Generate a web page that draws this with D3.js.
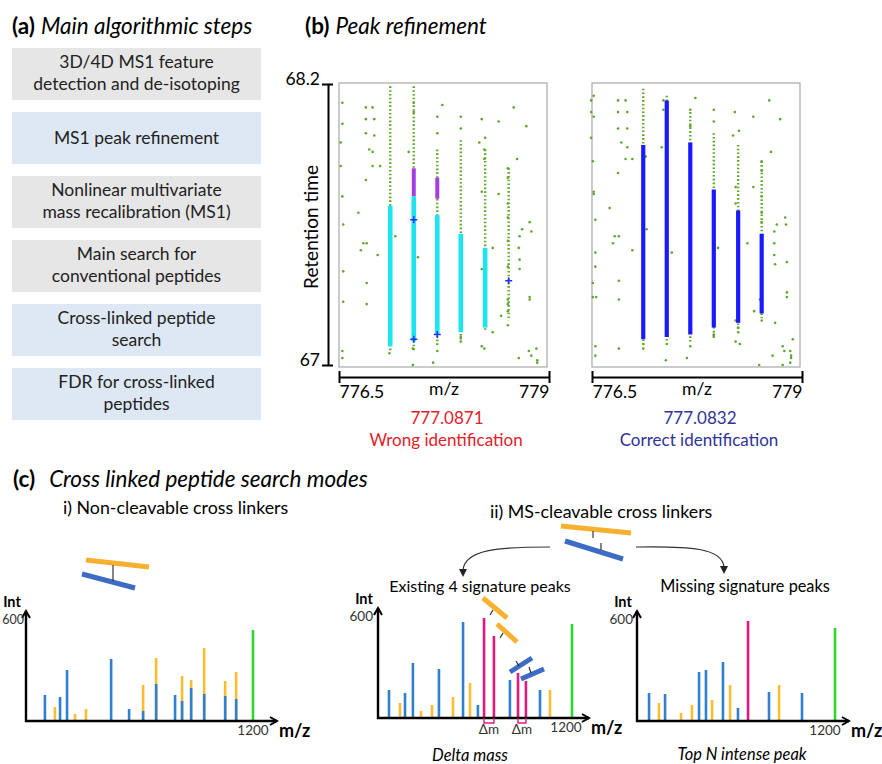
<!DOCTYPE html>
<html>
<head>
<meta charset="utf-8">
<script src="https://cdn.jsdelivr.net/npm/d3@7"></script>
<style>
  body { margin: 0; background: #fff; }
  svg text { font-family: Lato, "Open Sans", sans-serif; }
</style>
</head>
<body>
<script>
// ---- (a) steps ----
var steps = [
  ["3D/4D MS1 feature", "detection and de-isotoping"],
  ["MS1 peak refinement"],
  ["Nonlinear multivariate", "mass recalibration (MS1)"],
  ["Main search for", "conventional peptides"],
  ["Cross-linked peptide", "search"],
  ["FDR for cross-linked", "peptides"]
];
var stepKind = ["gen", "xl", "gen", "gen", "xl", "xl"];

// ---- (b) peak refinement ----
var peakMz = [777.11, 777.39, 777.67, 777.95, 778.24, 778.52];
var rtTicks = [67, 68.2];
var mzTicks = [776.5, 779];

// [peak index, rt top, rt bottom]
var wrongTrails = [[0, 68.19, 67.06], [1, 68.19, 67.06], [2, 67.92, 67.08], [3, 67.96, 67.10], [4, 67.92, 67.15], [5, 67.84, 67.19]];
var wrongCyan = [[0, 67.68, 67.08], [1, 67.72, 67.10], [2, 67.64, 67.13], [3, 67.56, 67.14], [4, 67.50, 67.16]];
var wrongPurple = [[1, 67.84, 67.72], [2, 67.80, 67.71]];
var wrongCross = [[1, 67.62], [1, 67.11], [2, 67.13], [5, 67.36]];
var wrongDots = [[776.54,68.12],[776.82,68.10],[776.90,68.10],[776.82,68.05],[776.92,68.05],[776.54,68.03],[776.82,67.99],[776.92,67.98],[776.86,67.92],[776.90,67.91],[776.90,67.85],[776.99,67.85],[776.52,67.95],[776.52,67.85],[776.82,67.79],[776.54,67.72],[776.73,67.65],[776.55,67.60],[776.79,67.52],[776.83,67.52],[776.76,67.49],[776.96,67.47],[777.17,67.55],[777.33,67.91],[777.73,68.11],[777.95,68.06],[777.95,68.01],[778.20,68.05],[778.40,68.04],[778.58,68.10],[778.73,68.02],[778.24,67.97],[778.17,67.95],[778.23,67.92],[778.23,67.88],[778.62,67.88],[778.51,67.84],[778.51,67.80],[778.20,67.74],[778.40,67.73],[778.51,67.69],[778.51,67.63],[778.77,67.61],[778.68,67.58],[778.79,67.57],[778.65,67.55],[778.51,67.53],[778.64,67.50],[778.33,67.50],[777.67,68.06],[777.67,67.99],[777.39,68.12],[777.39,68.08],[776.55,67.40],[776.83,67.35],[776.55,67.27],[776.83,67.26],[777.44,67.46],[778.65,67.45],[778.65,67.41],[778.51,67.42],[778.77,67.29],[778.77,67.28],[778.43,67.21],[778.51,67.17],[778.20,67.41],[778.23,67.17],[778.33,67.14],[777.95,67.12],[777.95,67.10],[778.20,67.08],[778.23,67.07],[778.76,67.06],[778.85,67.07],[778.79,67.04],[778.86,67.02],[778.86,67.01],[778.64,67.03],[776.54,67.06],[776.54,67.03],[777.38,67.00],[777.62,67.01],[777.67,67.06],[777.38,67.07],[777.10,67.05],[778.51,67.28],[778.51,67.26],[778.51,67.23]];

var correctTrails = [[0, 68.18, 67.08], [1, 68.15, 67.10], [2, 68.08, 67.10], [3, 67.99, 67.12], [4, 67.94, 67.15], [5, 67.87, 67.20]];
var correctBlue = [[0, 67.94, 67.11], [1, 68.13, 67.12], [2, 67.95, 67.13], [3, 67.75, 67.16], [4, 67.66, 67.18], [5, 67.56, 67.22]];
var correctDots = [[776.52,68.15],[776.49,68.13],[776.49,68.08],[776.52,68.06],[776.49,67.97],[776.51,67.87],[776.52,67.74],[776.52,67.73],[776.54,67.62],[776.54,67.48],[776.81,68.13],[776.90,68.13],[776.81,68.08],[776.92,68.08],[776.81,68.01],[776.92,68.01],[776.85,67.95],[776.92,67.93],[776.90,67.88],[776.98,67.88],[776.81,67.82],[776.71,67.67],[776.77,67.55],[776.82,67.55],[776.75,67.52],[776.98,67.49],[777.15,67.58],[777.14,67.89],[777.33,67.93],[777.35,68.13],[777.35,68.09],[777.45,67.48],[777.73,68.14],[777.67,68.09],[777.67,68.02],[777.95,68.09],[777.95,68.04],[778.00,67.50],[778.20,68.08],[778.25,68.00],[778.18,67.98],[778.21,67.76],[778.21,67.69],[778.35,67.52],[778.42,68.06],[778.61,68.13],[778.74,68.05],[778.63,67.91],[778.52,67.87],[778.52,67.83],[778.42,67.76],[778.52,67.72],[778.52,67.65],[778.52,67.61],[778.70,67.60],[778.81,67.60],[778.80,67.63],[778.67,67.57],[778.67,67.52],[778.67,67.47],[776.54,67.42],[776.51,67.35],[776.51,67.29],[776.55,67.29],[776.82,67.36],[776.82,67.28],[778.82,67.44],[778.68,67.43],[778.82,67.31],[778.82,67.29],[778.50,67.28],[778.43,67.23],[778.21,67.19],[778.24,67.16],[778.24,67.14],[777.95,67.13],[777.95,67.12],[778.26,67.09],[778.21,67.10],[778.52,67.19],[778.68,67.18],[777.11,67.09],[777.11,67.07],[777.39,67.09],[777.38,67.02],[777.67,67.08],[777.63,67.03],[776.54,67.08],[776.54,67.04],[776.82,67.07],[778.49,67.00],[778.65,67.04],[778.77,67.08],[778.79,67.06],[778.86,67.06],[778.87,67.04],[778.87,67.03],[778.86,67.01],[778.77,67.00],[778.89,67.11]];

// ---- (c) spectra: [m/z, intensity] ----
var ncBlue = [[100,156],[180,144],[217,306],[450,372],[545,72],[619,60],[688,222],[788,156],[825,120],[873,198],[942,162],[1053,150],[1111,132]];
var ncOrange = [[153,84],[259,42],[317,72],[619,216],[688,378],[825,270],[873,246],[942,438],[1053,240],[1111,294]];
var ncGreen = [[1200,546]];

var dmBlue = [[68,168],[167,150],[216,330],[377,294],[526,576],[618,78],[816,228],[1002,168]];
var dmOrange = [[136,90],[266,42],[334,78],[464,126],[569,210],[1064,168]];
var dmMagenta = [[656,600],[717,492],[866,270],[915,222]];
var dmPairs = [[656,717],[866,915]];
var dmGreen = [[1200,564]];

var tnBlue = [[73,168],[170,162],[376,294],[418,306],[521,354],[612,78],[800,174],[1000,168]];
var tnOrange = [[133,108],[267,48],[333,96],[455,126],[564,216],[861,216]];
var tnMagenta = [[673,600]];
var tnGreen = [[1200,558]];

var BLUE = "#2f80cf", ORANGE = "#fcbd32", GREEN = "#2ed62e", MAGENTA = "#e2197c";
var DOT = "#5ea62c", GBLUE = "#3c6cc4", GORANGE = "#f7b030";

var width = 882, height = 764;
var svg = d3.select('body').append('svg')
  .attr('width', width)
  .attr('height', height);

function title(x, y, tag, rest, gap) {
  var t = svg.append('text').attr('x', x).attr('y', y).style('font-size', '22.5px');
  t.append('tspan').attr('font-weight', 'bold').text(tag);
  t.append('tspan').attr('dx', gap).attr('font-style', 'italic').text(rest);
}

// ---------- (a) ----------
title(12, 34, "(a)", "Main algorithmic steps", 6);
var boxTop = 48, boxStep = 64, boxH = 52, boxX = 12, boxW = 249;
svg.selectAll('rect.step')
  .data(steps)
  .enter()
  .append('rect')
  .attr('x', boxX)
  .attr('y', function(d, i) { return boxTop + i * boxStep; })
  .attr('width', boxW)
  .attr('height', boxH)
  .attr('fill', function(d, i) { return stepKind[i] == 'xl' ? '#dde8f4' : '#e6e6e6'; });
steps.forEach(function(lines, i) {
  var top = boxTop + i * boxStep;
  var t = svg.append('text').attr('text-anchor', 'middle').style('font-size', '17.5px').attr('fill', '#222');
  lines.forEach(function(l, j) {
    t.append('tspan')
      .attr('x', boxX + boxW / 2)
      .attr('y', lines.length == 1 ? top + 32 : top + 20 + j * 22)
      .text(l);
  });
});

// ---------- (b) ----------
title(305, 34, "(b)", "Peak refinement", 6);

function peakPanel(left, trails, dots, segs, crosses, mass, verdict, color) {
  var x = d3.scaleLinear().domain([776.5, 779]).range([left, left + 210]);
  var y = d3.scaleLinear().domain([67, 68.2]).range([365, 84]);
  var g = svg.append('g');

  g.append('rect')
    .attr('x', left).attr('y', 83).attr('width', 208).attr('height', 284)
    .attr('fill', 'none').attr('stroke', '#a8a8a8').attr('stroke-width', 1.2);

  g.selectAll(null).data(trails).enter().append('line')
    .attr('x1', function(d) { return x(peakMz[d[0]]); })
    .attr('x2', function(d) { return x(peakMz[d[0]]); })
    .attr('y1', function(d) { return y(d[1]); })
    .attr('y2', function(d) { return y(d[2]); })
    .attr('stroke', DOT).attr('stroke-width', 2.4).attr('stroke-dasharray', '1.6,2.2');

  g.selectAll(null).data(dots).enter().append('circle')
    .attr('cx', function(d) { return x(d[0]); })
    .attr('cy', function(d) { return y(d[1]); })
    .attr('r', 1.3)
    .attr('fill', DOT);

  segs.forEach(function(s) {
    g.selectAll(null).data(s.data).enter().append('line')
      .attr('x1', function(d) { return x(peakMz[d[0]]); })
      .attr('x2', function(d) { return x(peakMz[d[0]]); })
      .attr('y1', function(d) { return y(d[1]); })
      .attr('y2', function(d) { return y(d[2]); })
      .attr('stroke', s.color).attr('stroke-width', s.w);
  });

  g.selectAll(null).data(crosses).enter().append('path')
    .attr('d', function(d) {
      var cx = x(peakMz[d[0]]), cy = y(d[1]);
      return 'M' + (cx - 3.5) + ',' + cy + 'H' + (cx + 3.5) + 'M' + cx + ',' + (cy - 3.5) + 'V' + (cy + 3.5);
    })
    .attr('stroke', '#2a2aff').attr('stroke-width', 1.4);

  var xa = g.append('g')
    .attr('transform', 'translate(0,377)')
    .call(d3.axisBottom(x).tickValues(mzTicks).tickSizeOuter(0).tickFormat(d3.format('~g')));
  xa.select('.domain').attr('stroke-width', 2);
  xa.selectAll('.tick line').attr('y1', -6).attr('y2', 6).attr('stroke-width', 2);
  xa.selectAll('.tick text')
    .attr('y', 21).attr('dy', 0)
    .style('font-size', '17.5px')
    .attr('text-anchor', function(d, i) { return i == 0 ? 'start' : 'end'; });

  var mid = left + 105;
  g.append('text').attr('x', mid).attr('y', 395).attr('text-anchor', 'middle').style('font-size', '17.5px').text('m/z');
  g.append('text').attr('x', mid + 3).attr('y', 424).attr('text-anchor', 'middle').style('font-size', '17px').attr('fill', color).text(mass);
  g.append('text').attr('x', mid + 2).attr('y', 446).attr('text-anchor', 'middle').style('font-size', '17px').attr('fill', color).text(verdict);
  return y;
}

var yL = peakPanel(339, wrongTrails, wrongDots,
  [{data: wrongPurple, color: '#a33ee0', w: 4}, {data: wrongCyan, color: '#1ce5f2', w: 4.6}],
  wrongCross, '777.0871', 'Wrong identification', '#e5202a');
peakPanel(592, correctTrails, correctDots,
  [{data: correctBlue, color: '#1a1aff', w: 4.2}],
  [], '777.0832', 'Correct identification', '#303398');

var ya = svg.append('g')
  .attr('transform', 'translate(328,0)')
  .call(d3.axisLeft(yL).tickValues(rtTicks).tickSizeOuter(0).tickFormat(d3.format('~g')));
ya.select('.domain').attr('stroke-width', 2);
ya.selectAll('.tick line').attr('x1', 5).attr('x2', -6).attr('stroke-width', 2);
ya.selectAll('.tick text').attr('x', -8).attr('dy', 0).style('font-size', '17.5px');
svg.append('text')
  .attr('transform', 'translate(318,227) rotate(-90)')
  .attr('text-anchor', 'middle')
  .style('font-size', '19px')
  .text('Retention time');

// ---------- (c) ----------
title(13, 487, "(c)", "Cross linked peptide search modes", 14);
svg.append('text').attr('x', 63).attr('y', 514).style('font-size', '17.8px').text('i) Non-cleavable cross linkers');
svg.append('text').attr('x', 490).attr('y', 518).style('font-size', '17.8px').text('ii) MS-cleavable cross linkers');

function bar(g, x1, y1, x2, y2, color) {
  g.append('line').attr('x1', x1).attr('y1', y1).attr('x2', x2).attr('y2', y2)
    .attr('stroke', color).attr('stroke-width', 5);
}
function tick(g, x1, y1, x2, y2) {
  g.append('line').attr('x1', x1).attr('y1', y1).attr('x2', x2).attr('y2', y2)
    .attr('stroke', '#222').attr('stroke-width', 1.1);
}
var deco = svg.append('g');
// non-cleavable linker
bar(deco, 86, 560, 149, 567, GORANGE);
bar(deco, 82, 574, 135, 588, GBLUE);
tick(deco, 113, 565, 113, 581);
// cleavable linker
bar(deco, 561, 526, 631, 533, GORANGE);
bar(deco, 565, 541, 623, 559, GBLUE);
tick(deco, 593, 531, 593, 538);
tick(deco, 601, 543, 601, 550);
// branching arrows
deco.append('path').attr('d', 'M550,547 C500,547 465,549 463,570').attr('fill', 'none').attr('stroke', '#333').attr('stroke-width', 1.2);
deco.append('path').attr('d', 'M459,569 L463,577 L467,569 Z').attr('fill', '#222');
deco.append('path').attr('d', 'M636,547 C690,546 722,548 724,567').attr('fill', 'none').attr('stroke', '#333').attr('stroke-width', 1.2);
deco.append('path').attr('d', 'M720,566 L724,574 L728,566 Z').attr('fill', '#222');

svg.append('text').attr('x', 480).attr('y', 592).attr('text-anchor', 'middle').style('font-size', '16px').text('Existing 4 signature peaks');
svg.append('text').attr('x', 745).attr('y', 592).attr('text-anchor', 'middle').style('font-size', '16.3px').text('Missing signature peaks');
svg.append('text').attr('x', 470).attr('y', 761).attr('text-anchor', 'middle').attr('font-style', 'italic').style('font-size', '16.5px').text('Delta mass');
svg.append('text').attr('x', 742).attr('y', 760).attr('text-anchor', 'middle').attr('font-style', 'italic').style('font-size', '16.4px').text('Top N intense peak');

var frames = [
  {x0: 26, x1200: 253, xEnd: 277, y0: 721, lab600: 24, lab1200: 253},
  {x0: 378, x1200: 572, xEnd: 589, y0: 718, lab600: 373, lab1200: 566},
  {x0: 637, x1200: 835, xEnd: 849, y0: 721, lab600: 633, lab1200: 825}
];
var specs = [
  {blue: ncBlue, orange: ncOrange, magenta: [], green: ncGreen, pairs: []},
  {blue: dmBlue, orange: dmOrange, magenta: dmMagenta, green: dmGreen, pairs: dmPairs},
  {blue: tnBlue, orange: tnOrange, magenta: tnMagenta, green: tnGreen, pairs: []}
];

specs.forEach(function(s, k) {
  var f = frames[k];
  var x = d3.scaleLinear().domain([0, 1200]).range([f.x0, f.x1200]);
  var y = d3.scaleLinear().domain([0, 600]).range([f.y0, f.y0 - 100]);
  var g = svg.append('g');

  function bars(data, color) {
    g.selectAll(null).data(data).enter().append('line')
      .attr('x1', function(d) { return x(d[0]); })
      .attr('x2', function(d) { return x(d[0]); })
      .attr('y1', y(0))
      .attr('y2', function(d) { return y(d[1]); })
      .attr('stroke', color)
      .attr('stroke-width', 2.6);
  }
  bars(s.orange, ORANGE);
  bars(s.blue, BLUE);
  bars(s.magenta, MAGENTA);
  bars(s.green, GREEN);

  // axes with arrow heads
  var top = f.y0 - 110;
  g.append('path')
    .attr('d', 'M' + f.x0 + ',' + (f.y0 + 1) + 'V' + top + 'M' + (f.x0 - 1) + ',' + f.y0 + 'H' + f.xEnd)
    .attr('fill', 'none').attr('stroke', '#000').attr('stroke-width', 2.4);
  g.append('path')
    .attr('d', 'M' + (f.x0 - 4) + ',' + (top + 7) + 'L' + f.x0 + ',' + top + 'L' + (f.x0 + 4) + ',' + (top + 7) +
      'M' + (f.xEnd - 7) + ',' + (f.y0 - 4) + 'L' + f.xEnd + ',' + f.y0 + 'L' + (f.xEnd - 7) + ',' + (f.y0 + 4))
    .attr('fill', 'none').attr('stroke', '#000').attr('stroke-width', 2);

  // delta-mass brackets
  g.selectAll(null).data(s.pairs).enter().append('path')
    .attr('d', function(d) { return 'M' + x(d[0]) + ',' + f.y0 + 'V' + (f.y0 + 5) + 'H' + x(d[1]) + 'V' + f.y0; })
    .attr('fill', 'none').attr('stroke', MAGENTA).attr('stroke-width', 1.4);
  g.selectAll(null).data(s.pairs).enter().append('text')
    .attr('x', function(d) { return (x(d[0]) + x(d[1])) / 2; })
    .attr('y', f.y0 + 16)
    .attr('text-anchor', 'middle')
    .attr('fill', '#333')
    .style('font-size', '13.5px')
    .text('Δm');

  g.append('text').attr('x', f.x0 - 14).attr('y', f.y0 - 114).attr('text-anchor', 'middle')
    .attr('font-weight', 'bold').style('font-size', '14.5px').text('Int');
  g.append('text').attr('x', f.lab600).attr('y', f.y0 - 97).attr('text-anchor', 'end')
    .style('font-size', k == 0 ? '12.5px' : '13.5px').attr('fill', '#333').text('600');
  g.append('text').attr('x', f.lab1200).attr('y', f.y0 + 14).attr('text-anchor', 'middle')
    .style('font-size', '13.5px').attr('fill', '#333').text('1200');
  g.append('text').attr('x', f.xEnd + 2).attr('y', f.y0 + 16)
    .attr('font-weight', 'bold').style('font-size', '18px').text('m/z');
});

// small peptide fragments over the delta-mass spectrum
bar(deco, 483, 598, 507, 618, GORANGE);
tick(deco, 493, 610, 490, 615);
bar(deco, 497, 624, 517, 642, GORANGE);
tick(deco, 503, 633, 500, 638);
bar(deco, 510, 672, 532, 658, GBLUE);
tick(deco, 519, 666, 516, 661);
bar(deco, 521, 679, 544, 669, GBLUE);
tick(deco, 531, 673, 529, 667);
deco.raise();
</script>
</body>
</html>
